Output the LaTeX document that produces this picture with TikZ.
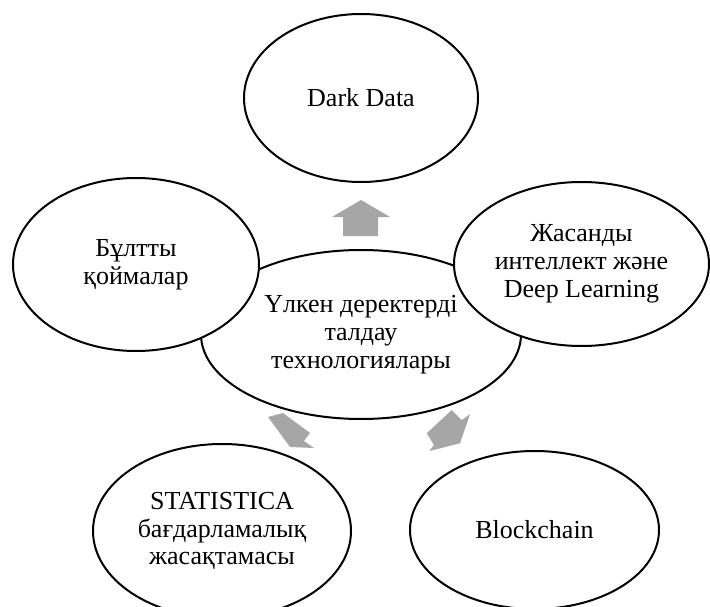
\documentclass[tikz,border=0pt]{standalone}
\usepackage{fontspec}
\setmainfont{Liberation Serif}
\usetikzlibrary{shapes.geometric}

\definecolor{arrowgray}{HTML}{A6A6A6}

\tikzset{
  bubble/.style={ellipse, draw=black, line width=2pt, fill=white,
    inner sep=0pt, align=center,
    font=\fontsize{26}{27.8}\selectfont},
  blockarrow/.style={fill=arrowgray, draw=none}
}

\begin{document}
\begin{tikzpicture}[x=1pt, y=-1pt]
  \useasboundingbox (0,0) rectangle (710,607);

  % central topic
  \node[bubble, minimum width=320pt, minimum height=169pt] (core) at (361,334.5)
    {Үлкен деректерді\\талдау\\технологиялары};

  % surrounding topics
  \node[bubble, minimum width=234pt, minimum height=168pt] (dark) at (361,98)
    {Dark Data};
  \node[bubble, minimum width=246pt, minimum height=173pt] (cloud) at (136,264.5)
    {Бұлтты\\қоймалар};
  \node[bubble, minimum width=255pt, minimum height=164pt] (ai) at (581.5,264)
    {Жасанды\\интеллект және\\Deep Learning};
  \node[bubble, minimum width=258pt, minimum height=174pt] (stat) at (222,531)
    {STATISTICA\\бағдарламалық\\жасақтамасы};
  \node[bubble, minimum width=249pt, minimum height=158pt] (chain) at (534.5,530)
    {Blockchain};

  % block arrows pointing away from the centre
  \fill[blockarrow] (361,200) -- (390,217) -- (378,217) -- (378,236)
    -- (343,236) -- (343,217) -- (332,217) -- cycle;
  \fill[blockarrow] (268,417) -- (283,413) -- (310,433) -- (304,441)
    -- (314,448) -- (290,447) -- cycle;
  \fill[blockarrow] (451.7,410) -- (461.7,420) -- (470,414.3) -- (460,443.3)
    -- (429.3,451) -- (434,445) -- (426.7,433.3) -- cycle;
\end{tikzpicture}
\end{document}
